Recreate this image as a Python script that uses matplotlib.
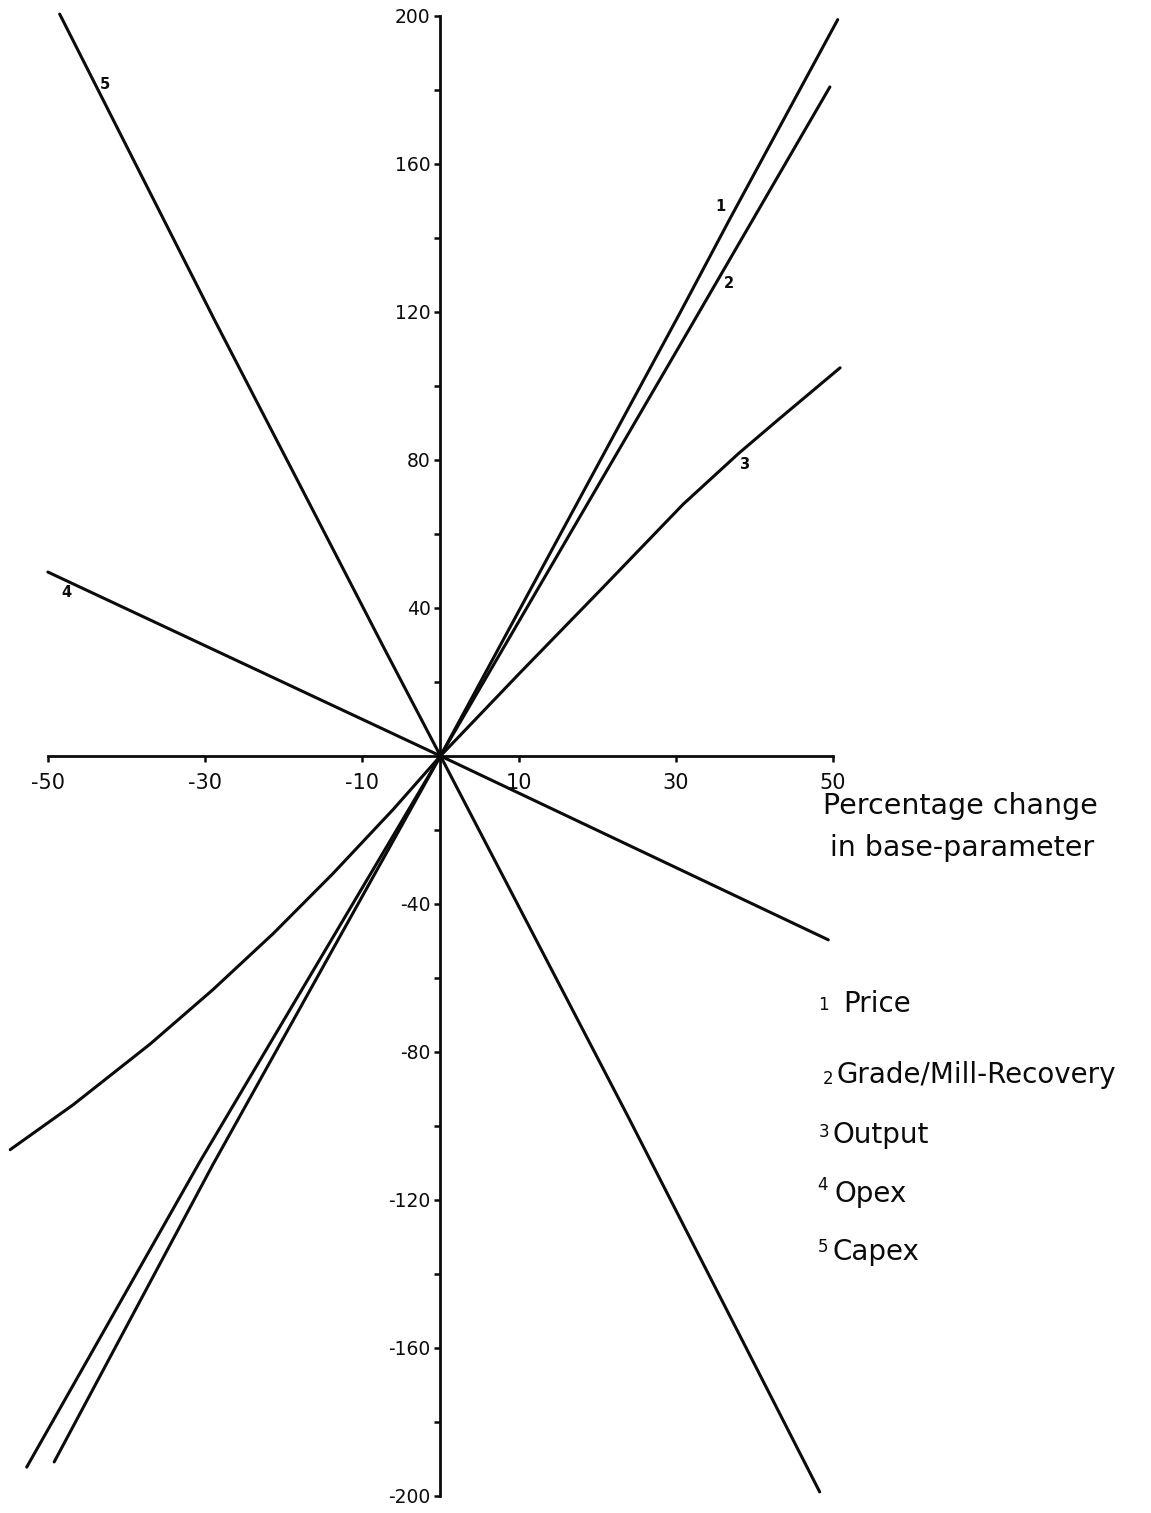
import matplotlib
matplotlib.use("Agg")
import matplotlib.pyplot as plt
from matplotlib.ticker import FixedLocator, NullFormatter

plt.rcParams["font.family"] = ["DejaVu Sans"]
plt.rcParams["axes.unicode_minus"] = False

# Sensitivity of project value (%) to a change in each base parameter (%)
price_x = [-49.2, -29.0, 0.0, 30.5, 36.9, 50.6]
price_y = [-190.8, -110.5, 0.0, 119.7, 145.3, 199.0]

grade_x = [-52.7, -30.6, 0.0, 30.5, 49.6]
grade_y = [-192.2, -109.5, 0.0, 111.0, 180.8]

output_x = [-54.8, -46.8, -37.0, -29.0, -21.3, -13.7, -6.0, 0.0,
            10.1, 20.5, 30.9, 38.0, 43.2, 50.9]
output_y = [-106.4, -94.3, -77.9, -63.2, -48.0, -31.8, -14.4, 0.0,
            22.4, 45.1, 68.0, 81.8, 91.2, 104.9]

opex_x = [-50.0, 0.0, 49.4]
opex_y = [49.7, 0.0, -49.7]

capex_x = [-48.5, -28.7, -17.9, -7.1, 0.0, 23.9, 48.3]
capex_y = [200.5, 117.5, 73.2, 28.8, 0.0, -97.5, -198.9]

curve_ids = ["1", "2", "3", "4", "5"]
curve_names = ["Price", "Grade/Mill-Recovery", "Output", "Opex", "Capex"]

x_ticks = [-50, -30, -10, 10, 30, 50]
y_ticks = [-200, -160, -120, -80, -40, 40, 80, 120, 160, 200]
y_minor = [-180, -140, -100, -60, -20, 20, 60, 100, 140, 180]

W, H = 1151, 1513
fig = plt.figure(figsize=(W / 100, H / 100), dpi=100)
ax = fig.add_axes([0, 0, 1, 1])
ax.set_xlim(-56.1, 90.5)
ax.set_ylim(-204.6, 204.3)

ink = "#0b0b0b"
lw = 2.2
series = [(price_x, price_y), (grade_x, grade_y), (output_x, output_y),
          (opex_x, opex_y), (capex_x, capex_y)]
for xs, ys in series:
    ax.plot(xs, ys, color=ink, lw=lw, solid_capstyle="round",
            solid_joinstyle="round")

# Axes crossing at the origin
for side in ("top", "right"):
    ax.spines[side].set_visible(False)
ax.spines["left"].set_position(("data", 0))
ax.spines["bottom"].set_position(("data", 0))
ax.spines["left"].set_bounds(-200, 200)
ax.spines["bottom"].set_bounds(-50, 50)
for side in ("left", "bottom"):
    ax.spines[side].set_linewidth(2.0)
    ax.spines[side].set_color(ink)

ax.xaxis.set_major_locator(FixedLocator(x_ticks))
ax.set_xticklabels([str(v) for v in x_ticks])
ax.yaxis.set_major_locator(FixedLocator(y_ticks))
ax.set_yticklabels([str(v) for v in y_ticks])
ax.yaxis.set_minor_locator(FixedLocator(y_minor))
ax.yaxis.set_minor_formatter(NullFormatter())

ax.tick_params(axis="x", direction="out", length=4, width=1.8, pad=8,
               labelsize=15, colors=ink)
ax.tick_params(axis="y", which="both", direction="out", length=4, width=1.8,
               pad=3, labelsize=13.5, colors=ink)

# Curve numbers along the lines
curve_tags = [(35.6, 148.4), (36.8, 127.8), (38.7, 78.9), (-47.7, 44.3),
              (-42.7, 181.4)]
for cid, (tx, ty) in zip(curve_ids, curve_tags):
    ax.text(tx, ty, cid, fontsize=10.5, fontweight="bold", color=ink,
            ha="center", va="center")


def fx(px):
    return px / W


def fy(py):
    return 1 - py / H


fig.text(fx(823), fy(814), "Percentage change", fontsize=20.5, color=ink,
         ha="left", va="baseline")
fig.text(fx(830), fy(856), "in base-parameter", fontsize=20.5, color=ink,
         ha="left", va="baseline")

# Key to the curves
name_pos = [(843, 1012), (836, 1083), (833, 1143), (835, 1202), (833, 1260)]
num_pos = [(823, 1010), (828, 1084), (824, 1137), (823, 1190), (823, 1252)]
for cid, name, (nx, ny), (ix, iy) in zip(curve_ids, curve_names, name_pos,
                                         num_pos):
    fig.text(fx(ix), fy(iy), cid, fontsize=12, color=ink, ha="center",
             va="baseline")
    fig.text(fx(nx), fy(ny), name, fontsize=20, color=ink, ha="left",
             va="baseline")

fig.savefig("out.png", dpi=100, facecolor="white")
